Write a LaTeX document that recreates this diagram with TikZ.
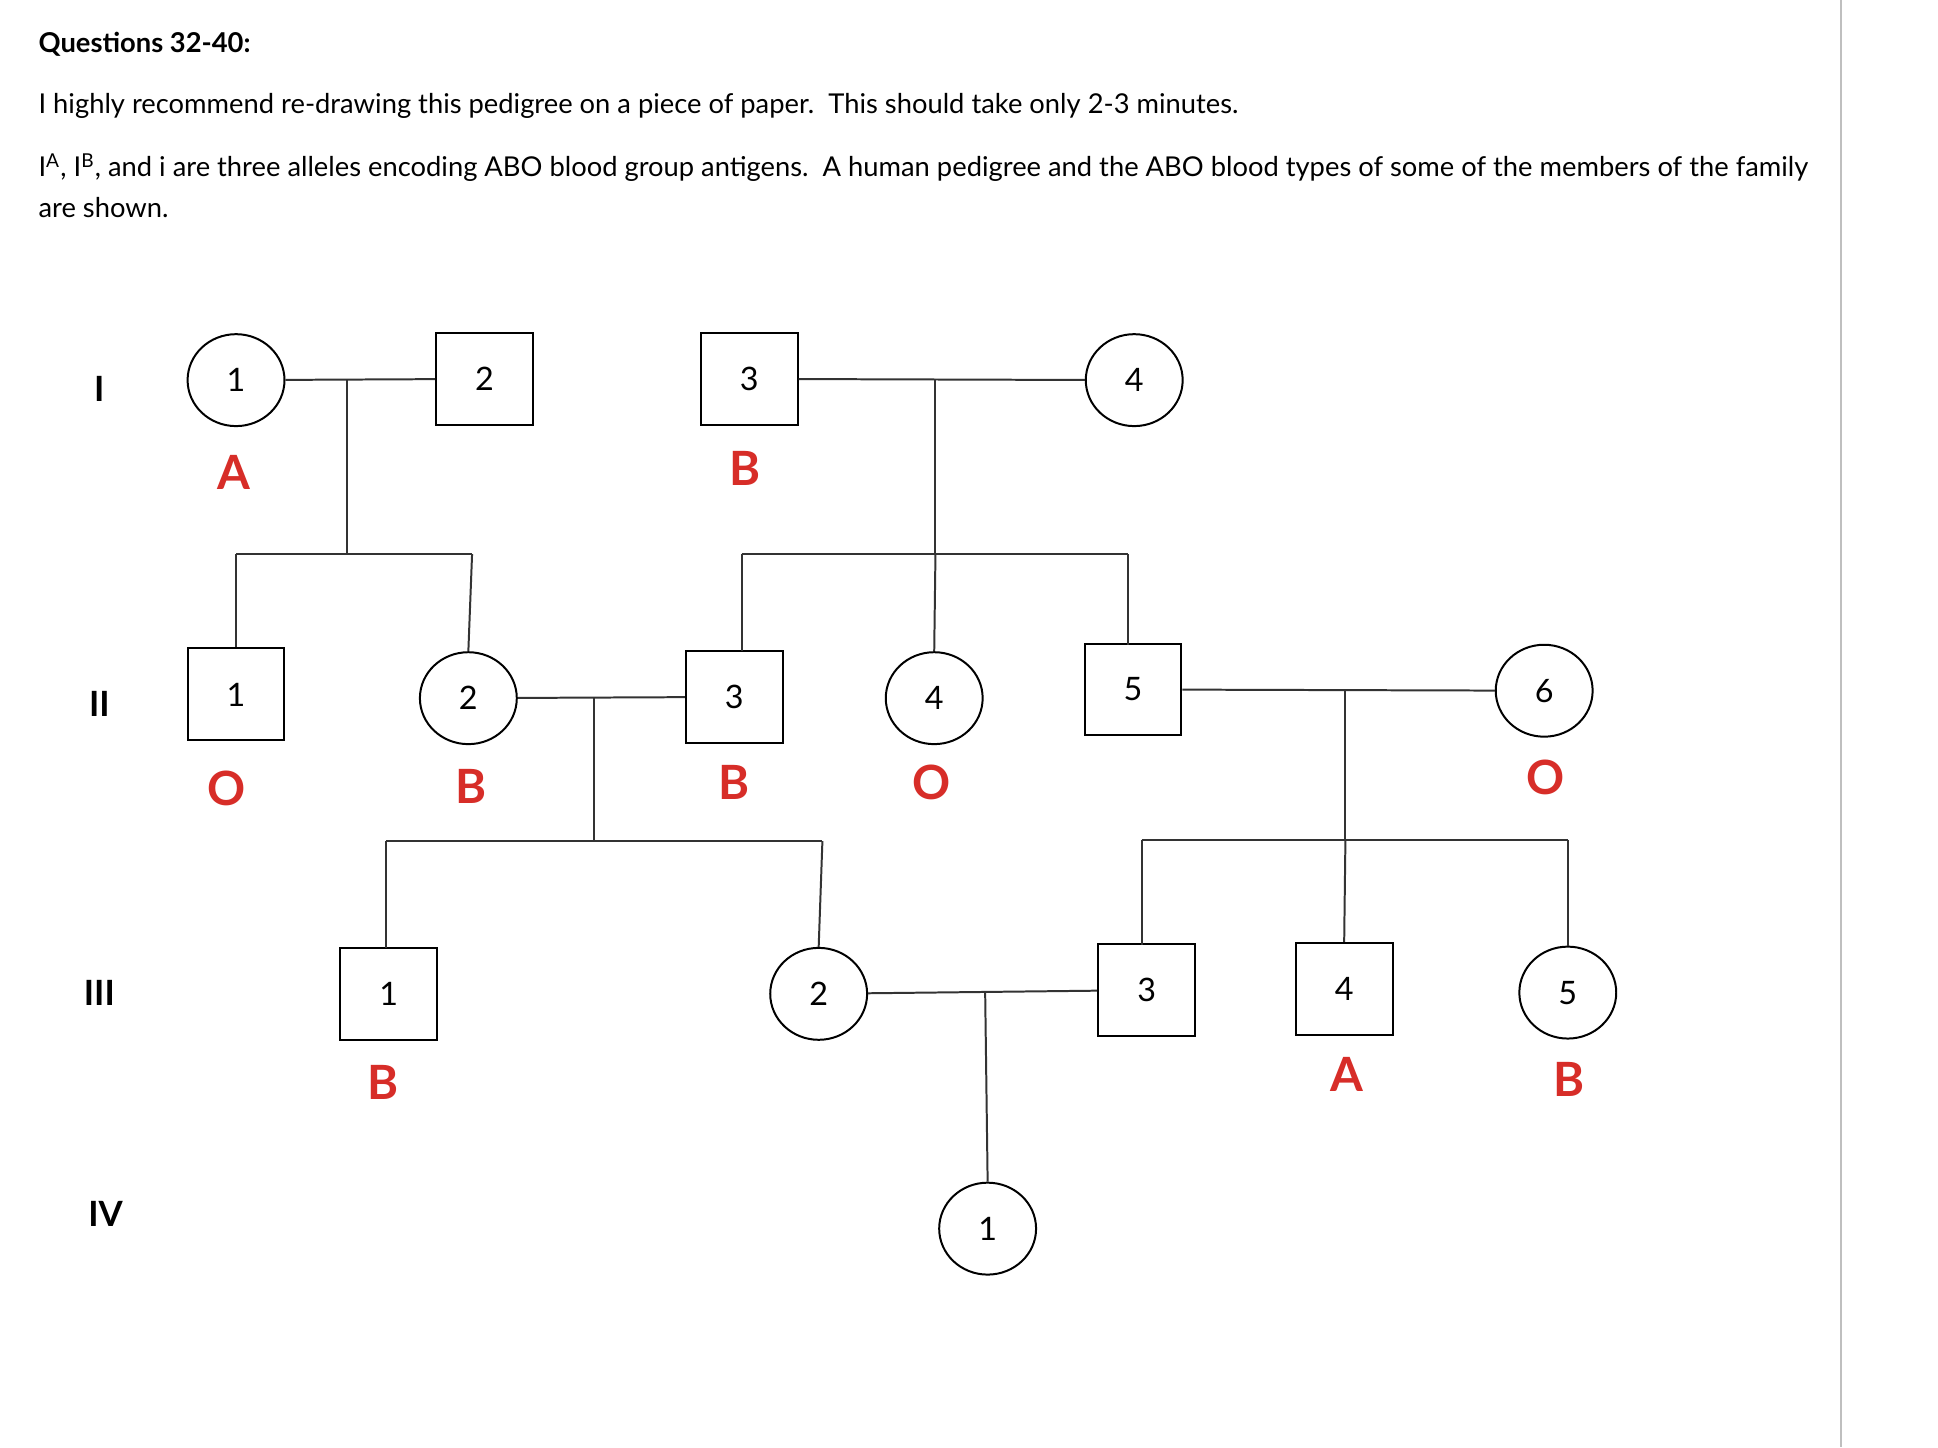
\documentclass[tikz,border=0pt]{standalone}
\usepackage{fontspec}
\setmainfont{Lato}
\usetikzlibrary{shapes.geometric}
\definecolor{lab}{RGB}{215,45,40}
\begin{document}
\begin{tikzpicture}[x=0.5pt,y=-0.5pt,
  male/.style={draw,thick,minimum width=39pt,minimum height=37pt,inner sep=0pt,font=\fontsize{13}{15}\selectfont},
  female/.style={draw,thick,ellipse,minimum width=39pt,minimum height=37pt,inner sep=0pt,font=\fontsize{13}{15}\selectfont},
  blood/.style={text=lab,font=\bfseries\fontsize{19}{22}\selectfont},
  gen/.style={font=\bfseries\fontsize{14}{16}\selectfont},
  para/.style={anchor=west,font=\fontsize{11}{13}\selectfont},
  ln/.style={draw,thick,black!80}]
\useasboundingbox (0,0) rectangle (1560,1165);
\fill[white] (0,0) rectangle (1560,1165);
\draw[gray!50,thick] (1482,0) -- (1482,1165);
\node[para,font=\bfseries\fontsize{11}{13}\selectfont] (t1) at (24,36) {Questions 32-40:};
\node[para] (t2) at (24,85) {I highly recommend re-drawing this pedigree on a piece of paper.\ \ This should take only 2-3 minutes.};
\node[para] (t3) at (24,135) {I\textsuperscript{A}, I\textsuperscript{B}, and i are three alleles encoding ABO blood group antigens.\ \ A human pedigree and the ABO blood types of some of the members of the family};
\node[para] (t4) at (24,167) {are shown.};
\node[gen] (g1) at (80,313) {I};
\node[gen] (g2) at (80,567) {II};
\node[gen] (g3) at (80,799) {III};
\node[gen] (g4) at (85,977) {IV};
% generation I
\node[female] (a1) at (190,306) {1};
\node[male] (a2) at (390,305) {2};
\node[male] (a3) at (603,305) {3};
\node[female] (a4) at (913,306) {4};
% generation II
\node[male] (b1) at (190,559) {1};
\node[female] (b2) at (377,562) {2};
\node[male] (b3) at (591,561) {3};
\node[female] (b4) at (752,562) {4};
\node[male] (b5) at (912,555) {5};
\node[female] (b6) at (1243,556) {6};
% generation III
\node[male] (c1) at (313,800) {1};
\node[female] (c2) at (659,800) {2};
\node[male] (c3) at (923,797) {3};
\node[male] (c4) at (1082,796) {4};
\node[female] (c5) at (1262,799) {5};
% generation IV
\node[female] (d1) at (795,989) {1};
% blood types
\node[blood] at (188,380) {A};
\node[blood] at (600,377) {B};
\node[blood] at (182,635) {O};
\node[blood] at (379,633) {B};
\node[blood] at (591,630) {B};
\node[blood] at (750,630) {O};
\node[blood] at (1244,626) {O};
\node[blood] at (308,871) {B};
\node[blood] at (1084,865) {A};
\node[blood] at (1263,869) {B};
% lines
\coordinate (m1) at (279,306); \coordinate (s1) at (279,446);
\draw[ln] (a1) -- (a2);
\draw[ln] (m1) -- (s1);
\draw[ln] (190,446) -- (380,446);
\draw[ln] (190,446) -- (b1.north);
\draw[ln] (380,446) -- (b2.north);
\coordinate (m2) at (753,305); \coordinate (s2) at (753,446);
\draw[ln] (a3) -- (a4);
\draw[ln] (m2) -- (s2);
\draw[ln] (597,446) -- (908,446);
\draw[ln] (597,446) -- (597,524);
\draw[ln] (753,446) -- (b4.north);
\draw[ln] (908,446) -- (908,519);
\coordinate (m3) at (478,562);
\draw[ln] (b2) -- (b3);
\draw[ln] (m3) -- (478,677);
\draw[ln] (311,677) -- (662,677);
\draw[ln] (311,677) -- (311,763);
\draw[ln] (662,677) -- (c2.north);
\coordinate (m4) at (1083,555);
\draw[ln] (b5) -- (b6);
\draw[ln] (m4) -- (1083,676);
\draw[ln] (919,676) -- (1262,676);
\draw[ln] (919,676) -- (919,761);
\draw[ln] (1083,676) -- (c4.north);
\draw[ln] (1262,676) -- (c5.north);
\coordinate (m5) at (793,798);
\draw[ln] (c2) -- (c3);
\draw[ln] (m5) -- (d1.north);
\end{tikzpicture}
\end{document}
